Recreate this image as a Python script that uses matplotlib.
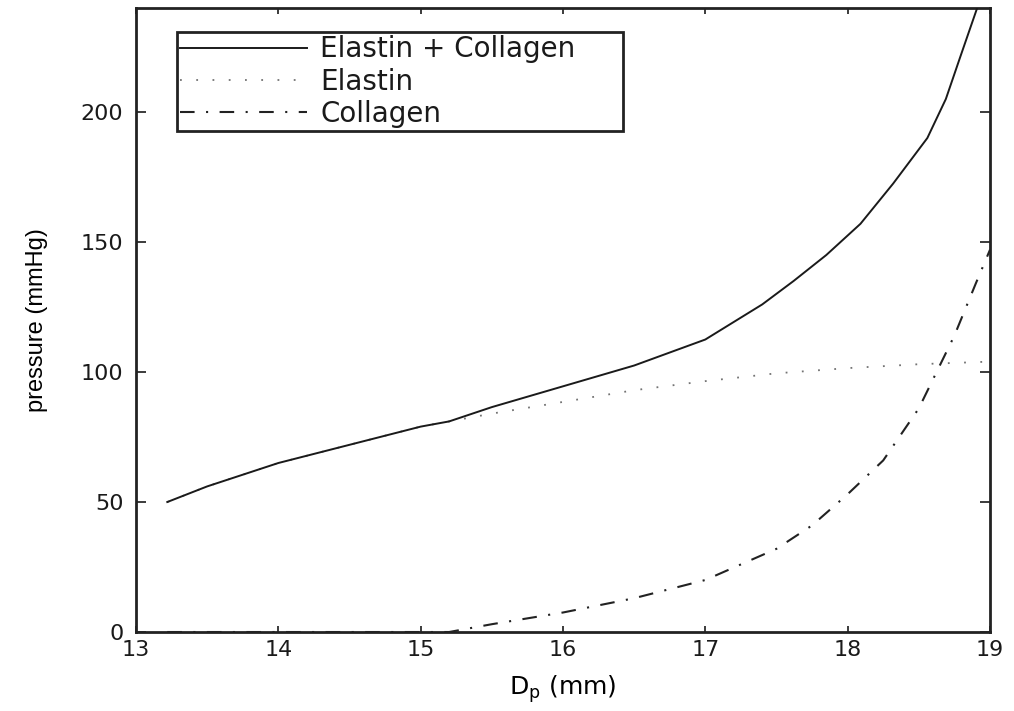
import numpy as np
import matplotlib
matplotlib.use('Agg')
import matplotlib.pyplot as plt

# Values (D_p in mm, pressure in mmHg)
dp_total = [13.22, 13.5, 14.0, 14.5, 15.0, 15.2, 15.5, 16.0, 16.5, 17.0, 17.4,
            17.62, 17.85, 18.09, 18.32, 18.56, 18.69, 18.79, 18.91, 19.0]
total = [50, 56, 65, 72, 79, 81, 86.5, 94.5, 102.5, 112.5, 126,
         135, 145, 157, 172.5, 190, 205, 221, 240, 256]

dp_elastin = [13.22, 13.5, 14.0, 14.5, 15.0, 15.2, 15.5, 16.0, 16.5, 17.0, 17.5,
              18.0, 18.5, 19.0]
elastin = [50, 56, 65, 72, 79, 81, 84, 88.5, 93, 96.5, 99.5,
           101.5, 103, 104]

dp_collagen = [13.22, 14.0, 15.0, 15.2, 15.5, 16.0, 16.5, 17.0, 17.5, 17.75,
               18.0, 18.25, 18.5, 18.75, 18.9, 19.0]
collagen = [0, 0, 0, 0, 3, 7.5, 13, 20, 32, 41,
            53, 66, 86, 114, 134, 147]

labels = ['Elastin + Collagen', 'Elastin', 'Collagen']
xticks = [13, 14, 15, 16, 17, 18, 19]
yticks = [0, 50, 100, 150, 200]

plt.rcParams['font.family'] = ['DejaVu Sans']
plt.rcParams['mathtext.default'] = 'regular'
plt.rcParams['text.color'] = '#1a1a1a'

fig = plt.figure(figsize=(10.14, 7.11), dpi=100)
ax = fig.add_axes([0.1341, 0.1111, 0.8422, 0.8776])

l1, = ax.plot(dp_total, total, color='#1a1a1a', linestyle='-', linewidth=1.4, zorder=3)
l2, = ax.plot(dp_elastin, elastin, color='0.45', linestyle=(0, (1, 8)), linewidth=1.3)
l3, = ax.plot(dp_collagen, collagen, color='#222222', linestyle=(0, (7, 5.5, 1, 5.5)), linewidth=1.5)

ax.set_xlim(13, 19)
ax.set_ylim(0, 240)
ax.set_xticks(xticks)
ax.set_yticks(yticks)
ax.tick_params(direction='in', top=True, right=True, width=1.2, labelsize=16,
               colors='#1a1a1a')
ax.tick_params(axis='x', length=4, pad=6)
ax.tick_params(axis='y', length=7, pad=9)
for s in ax.spines.values():
    s.set_linewidth(2)
    s.set_color('#222222')

ax.set_xlabel('D$_{p}$ (mm)', fontsize=18)
ax.xaxis.set_label_coords(0.5, -0.066)
ax.set_ylabel('pressure (mmHg)', fontsize=17, family='Liberation Sans')
ax.yaxis.set_label_coords(-0.103, 0.5)

leg = ax.legend([l1, l2, l3], labels, loc='upper left',
                bbox_to_anchor=(0.048, 0.0, 0.522, 0.9615), mode='expand',
                fontsize=20, handlelength=4.57, handletextpad=0.47,
                fancybox=False, framealpha=1, edgecolor='#222222',
                borderpad=0.12, labelspacing=0.15, borderaxespad=0)
leg.get_frame().set_linewidth(2)

fig.savefig('out.png', dpi=100)
